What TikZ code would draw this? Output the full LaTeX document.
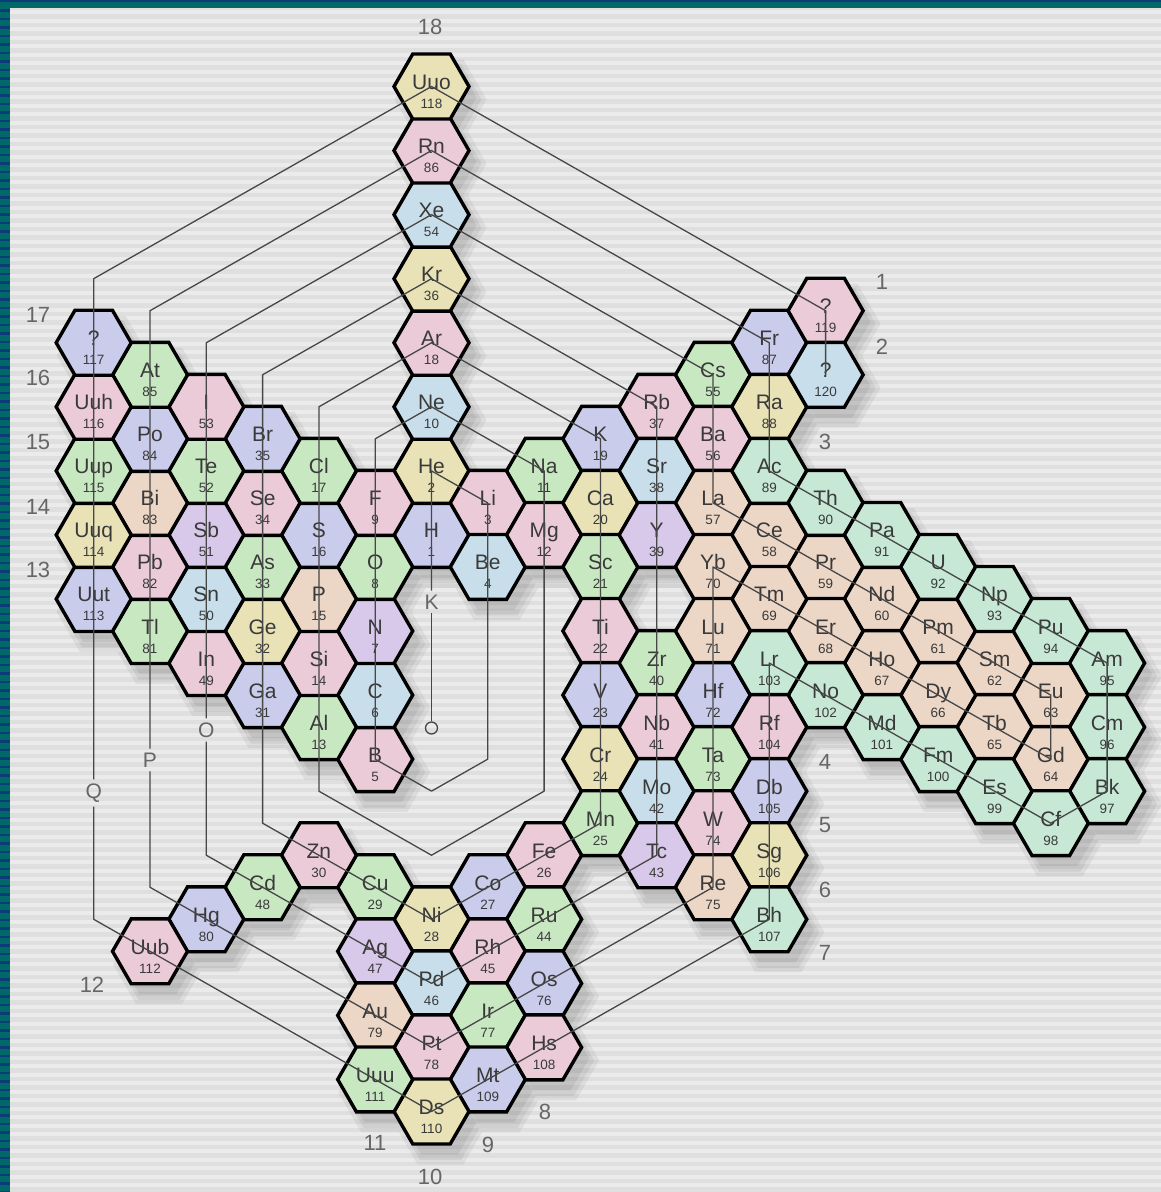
\documentclass[tikz,border=0pt]{standalone}
\usepackage{fontspec}
\setmainfont{Liberation Sans}
\usetikzlibrary{shapes.geometric}
\definecolor{cpink}{HTML}{EBCBD8}
\definecolor{cyel}{HTML}{E8E2B6}
\definecolor{cblue}{HTML}{C8DEEA}
\definecolor{clav}{HTML}{CACCEC}
\definecolor{cpurp}{HTML}{D8C8EA}
\definecolor{cgreen}{HTML}{C8E8C2}
\definecolor{cmint}{HTML}{C6E8D4}
\definecolor{cpeach}{HTML}{ECD6C6}
\definecolor{bgc}{HTML}{DFDFDF}
\definecolor{stripec}{HTML}{EBEBEB}
\definecolor{framec}{HTML}{006868}
\definecolor{navyc}{HTML}{0B3C78}
\definecolor{linec}{HTML}{474747}
\definecolor{txtc}{HTML}{3A3A3A}
\definecolor{lblc}{HTML}{666666}
\pgfdeclarelayer{bglayer}
\pgfdeclarelayer{shadowlayer}
\pgfsetlayers{bglayer,shadowlayer,main}
\tikzset{
  hexcell/.style={regular polygon, regular polygon sides=6, minimum size=75pt,
    inner sep=0pt, outer sep=0pt, draw=black, line width=3.4pt},
  symtxt/.style={font=\fontsize{21}{21}\selectfont, text=txtc, inner sep=0pt, anchor=base},
  numtxt/.style={font=\fontsize{13.5}{13.5}\selectfont, text=txtc, inner sep=0pt, anchor=base},
  grouplbl/.style={font=\fontsize{22}{22}\selectfont, text=lblc, inner sep=0pt},
  shelllbl/.style={font=\fontsize{21}{21}\selectfont, text=lblc, inner sep=4pt},
  conn/.style={draw=linec, line width=1.3pt, line join=round},
  origin/.style={circle, draw=linec, line width=1.3pt, minimum size=12pt, inner sep=0pt},
}
\def\elist{}
\newcommand\el[6]{%
  \node[hexcell, fill=#6] (#1) at (#2,#3) {};
  \node[symtxt] (#1-s) at ([yshift=-3pt]#1.center) {#4};
  \node[numtxt] (#1-n) at ([yshift=-22pt]#1.center) {#5};
  \ifx\elist\empty\xdef\elist{#1}\else\xdef\elist{\elist,#1}\fi
}
\newcommand\hexpath[1]{(0:#1) -- (60:#1) -- (120:#1) -- (180:#1) -- (240:#1) -- (300:#1) -- cycle}
\begin{document}
\begin{tikzpicture}[x=1pt,y=-1pt]
\useasboundingbox (0,0) rectangle (1161,1192);
\begin{pgfonlayer}{bglayer}
  \fill[bgc] (0,0) rectangle (1161,1192);
  \foreach \i in {0,...,139} \fill[stripec] (10,{10+8.5*\i}) rectangle (1161,{14+8.5*\i});
  \fill[framec] (0,0) rectangle (10,1192);
  \fill[framec] (0,0) rectangle (1161,8);
  \fill[navyc] (0,0) rectangle (1161,1.5);
  \foreach \i in {0,...,140} \fill[navyc] (0,{9+8.5*\i}) rectangle (10,{11.5+8.5*\i});
\end{pgfonlayer}

\begin{scope}[shift={(431.5,86.5)}, x=56.3pt, y=-64.06pt]
\el{H}{0}{7}{H}{1}{clav}
\el{He}{0}{6}{He}{2}{cyel}
\el{Li}{1}{6.5}{Li}{3}{cpink}
\el{Be}{1}{7.5}{Be}{4}{cblue}
\el{B}{-1}{10.5}{B}{5}{cpink}
\el{C}{-1}{9.5}{C}{6}{cblue}
\el{N}{-1}{8.5}{N}{7}{cpurp}
\el{O}{-1}{7.5}{O}{8}{cgreen}
\el{F}{-1}{6.5}{F}{9}{cpink}
\el{Ne}{0}{5}{Ne}{10}{cblue}
\el{Na}{2}{6}{Na}{11}{cgreen}
\el{Mg}{2}{7}{Mg}{12}{cpink}
\el{Al}{-2}{10}{Al}{13}{cgreen}
\el{Si}{-2}{9}{Si}{14}{cpink}
\el{P}{-2}{8}{P}{15}{cpeach}
\el{S}{-2}{7}{S}{16}{clav}
\el{Cl}{-2}{6}{Cl}{17}{cgreen}
\el{Ar}{0}{4}{Ar}{18}{cpink}
\el{K}{3}{5.5}{K}{19}{clav}
\el{Ca}{3}{6.5}{Ca}{20}{cyel}
\el{Sc}{3}{7.5}{Sc}{21}{cgreen}
\el{Ti}{3}{8.5}{Ti}{22}{cpink}
\el{V}{3}{9.5}{V}{23}{clav}
\el{Cr}{3}{10.5}{Cr}{24}{cyel}
\el{Mn}{3}{11.5}{Mn}{25}{cgreen}
\el{Fe}{2}{12}{Fe}{26}{cpink}
\el{Co}{1}{12.5}{Co}{27}{clav}
\el{Ni}{0}{13}{Ni}{28}{cyel}
\el{Cu}{-1}{12.5}{Cu}{29}{cgreen}
\el{Zn}{-2}{12}{Zn}{30}{cpink}
\el{Ga}{-3}{9.5}{Ga}{31}{clav}
\el{Ge}{-3}{8.5}{Ge}{32}{cyel}
\el{As}{-3}{7.5}{As}{33}{cgreen}
\el{Se}{-3}{6.5}{Se}{34}{cpink}
\el{Br}{-3}{5.5}{Br}{35}{clav}
\el{Kr}{0}{3}{Kr}{36}{cyel}
\el{Rb}{4}{5}{Rb}{37}{cpink}
\el{Sr}{4}{6}{Sr}{38}{cblue}
\el{Y}{4}{7}{Y}{39}{cpurp}
\el{Zr}{4}{9}{Zr}{40}{cgreen}
\el{Nb}{4}{10}{Nb}{41}{cpink}
\el{Mo}{4}{11}{Mo}{42}{cblue}
\el{Tc}{4}{12}{Tc}{43}{cpurp}
\el{Ru}{2}{13}{Ru}{44}{cgreen}
\el{Rh}{1}{13.5}{Rh}{45}{cpink}
\el{Pd}{0}{14}{Pd}{46}{cblue}
\el{Ag}{-1}{13.5}{Ag}{47}{cpurp}
\el{Cd}{-3}{12.5}{Cd}{48}{cgreen}
\el{In}{-4}{9}{In}{49}{cpink}
\el{Sn}{-4}{8}{Sn}{50}{cblue}
\el{Sb}{-4}{7}{Sb}{51}{cpurp}
\el{Te}{-4}{6}{Te}{52}{cgreen}
\el{I}{-4}{5}{I}{53}{cpink}
\el{Xe}{0}{2}{Xe}{54}{cblue}
\el{Cs}{5}{4.5}{Cs}{55}{cgreen}
\el{Ba}{5}{5.5}{Ba}{56}{cpink}
\el{La}{5}{6.5}{La}{57}{cpeach}
\el{Ce}{6}{7}{Ce}{58}{cpeach}
\el{Pr}{7}{7.5}{Pr}{59}{cpeach}
\el{Nd}{8}{8}{Nd}{60}{cpeach}
\el{Pm}{9}{8.5}{Pm}{61}{cpeach}
\el{Sm}{10}{9}{Sm}{62}{cpeach}
\el{Eu}{11}{9.5}{Eu}{63}{cpeach}
\el{Gd}{11}{10.5}{Gd}{64}{cpeach}
\el{Tb}{10}{10}{Tb}{65}{cpeach}
\el{Dy}{9}{9.5}{Dy}{66}{cpeach}
\el{Ho}{8}{9}{Ho}{67}{cpeach}
\el{Er}{7}{8.5}{Er}{68}{cpeach}
\el{Tm}{6}{8}{Tm}{69}{cpeach}
\el{Yb}{5}{7.5}{Yb}{70}{cpeach}
\el{Lu}{5}{8.5}{Lu}{71}{cpeach}
\el{Hf}{5}{9.5}{Hf}{72}{clav}
\el{Ta}{5}{10.5}{Ta}{73}{cgreen}
\el{W}{5}{11.5}{W}{74}{cpink}
\el{Re}{5}{12.5}{Re}{75}{cpeach}
\el{Os}{2}{14}{Os}{76}{clav}
\el{Ir}{1}{14.5}{Ir}{77}{cgreen}
\el{Pt}{0}{15}{Pt}{78}{cpink}
\el{Au}{-1}{14.5}{Au}{79}{cpeach}
\el{Hg}{-4}{13}{Hg}{80}{clav}
\el{Tl}{-5}{8.5}{Tl}{81}{cgreen}
\el{Pb}{-5}{7.5}{Pb}{82}{cpink}
\el{Bi}{-5}{6.5}{Bi}{83}{cpeach}
\el{Po}{-5}{5.5}{Po}{84}{clav}
\el{At}{-5}{4.5}{At}{85}{cgreen}
\el{Rn}{0}{1}{Rn}{86}{cpink}
\el{Fr}{6}{4}{Fr}{87}{clav}
\el{Ra}{6}{5}{Ra}{88}{cyel}
\el{Ac}{6}{6}{Ac}{89}{cmint}
\el{Th}{7}{6.5}{Th}{90}{cmint}
\el{Pa}{8}{7}{Pa}{91}{cmint}
\el{U}{9}{7.5}{U}{92}{cmint}
\el{Np}{10}{8}{Np}{93}{cmint}
\el{Pu}{11}{8.5}{Pu}{94}{cmint}
\el{Am}{12}{9}{Am}{95}{cmint}
\el{Cm}{12}{10}{Cm}{96}{cmint}
\el{Bk}{12}{11}{Bk}{97}{cmint}
\el{Cf}{11}{11.5}{Cf}{98}{cmint}
\el{Es}{10}{11}{Es}{99}{cmint}
\el{Fm}{9}{10.5}{Fm}{100}{cmint}
\el{Md}{8}{10}{Md}{101}{cmint}
\el{No}{7}{9.5}{No}{102}{cmint}
\el{Lr}{6}{9}{Lr}{103}{cmint}
\el{Rf}{6}{10}{Rf}{104}{cpink}
\el{Db}{6}{11}{Db}{105}{clav}
\el{Sg}{6}{12}{Sg}{106}{cyel}
\el{Bh}{6}{13}{Bh}{107}{cmint}
\el{Hs}{2}{15}{Hs}{108}{cpink}
\el{Mt}{1}{15.5}{Mt}{109}{clav}
\el{Ds}{0}{16}{Ds}{110}{cyel}
\el{Uuu}{-1}{15.5}{Uuu}{111}{cgreen}
\el{Uub}{-5}{13.5}{Uub}{112}{cpink}
\el{Uut}{-6}{8}{Uut}{113}{clav}
\el{Uuq}{-6}{7}{Uuq}{114}{cyel}
\el{Uup}{-6}{6}{Uup}{115}{cgreen}
\el{Uuh}{-6}{5}{Uuh}{116}{cpink}
\el{e117}{-6}{4}{?}{117}{clav}
\el{Uuo}{0}{0}{Uuo}{118}{cyel}
\el{e119}{7}{3.5}{?}{119}{cpink}
\el{e120}{7}{4.5}{?}{120}{cblue}
% bends of the connectors
\coordinate (g1) at (1,10.5);
\coordinate (g2) at (0,11);
\coordinate (g3) at (-1,5.5);
\coordinate (g4) at (2,11);
\coordinate (g5) at (0,12);
\coordinate (g6) at (-2,11);
\coordinate (g7) at (-2,5);
\coordinate (g8) at (-3,11.5);
\coordinate (g9) at (-3,4.5);
\coordinate (g10) at (-4,12);
\coordinate (g11) at (-4,4);
\coordinate (g12) at (-5,12.5);
\coordinate (g13) at (-5,3.5);
\coordinate (g14) at (-6,13);
\coordinate (g15) at (-6,3);
\end{scope}

% shadows
\begin{pgfonlayer}{shadowlayer}
\begin{scope}[transparency group, opacity=0.17]
  \foreach \n in \elist {\fill[black!40, shift={(\n.center)}, xshift=9pt, yshift=-13pt] \hexpath{46pt};}
  \foreach \n in \elist {\fill[black!70, shift={(\n.center)}, xshift=9pt, yshift=-13pt] \hexpath{41pt};}
  \foreach \n in \elist {\fill[black, shift={(\n.center)}, xshift=8pt, yshift=-11pt] \hexpath{37pt};}
\end{scope}
\end{pgfonlayer}

% shell letters and origin
\node[origin] (orig) at (431.5,728) {};
\node[shelllbl] (Kl) at (431.5,602) {K};
\node[shelllbl] (Ol) at (206.3,730) {O};
\node[shelllbl] (Pl) at (150,760) {P};
\node[shelllbl] (Ql) at (93.7,793) {Q};

% group numbers
\node[grouplbl] (grp18) at (430,27) {18};
\node[grouplbl] (grp17) at (38,315) {17};
\node[grouplbl] (grp16) at (38,378) {16};
\node[grouplbl] (grp15) at (38,442) {15};
\node[grouplbl] (grp14) at (38,507) {14};
\node[grouplbl] (grp13) at (38,570) {13};
\node[grouplbl] (grp12) at (92,985) {12};
\node[grouplbl] (grp11) at (375,1143) {11};
\node[grouplbl] (grp10) at (430,1177) {10};
\node[grouplbl] (grp9) at (488,1145) {9};
\node[grouplbl] (grp8) at (545,1112) {8};
\node[grouplbl] (grp7) at (825,953) {7};
\node[grouplbl] (grp6) at (825,890) {6};
\node[grouplbl] (grp5) at (825,825) {5};
\node[grouplbl] (grp4) at (825,762) {4};
\node[grouplbl] (grp3) at (825,442) {3};
\node[grouplbl] (grp2) at (882,347) {2};
\node[grouplbl] (grp1) at (882,282) {1};

% connectors: the spiral through the elements in order
\draw[conn] (orig) -- (Kl);
\draw[conn] (Kl) -- (H.center) -- (He.center) -- (Li.center) -- (Be.center) -- (g1) -- (g2)
  -- (B.center) -- (C.center) -- (N.center) -- (O.center) -- (F.center) -- (g3) -- (Ne.center)
  -- (Na.center) -- (Mg.center) -- (g4) -- (g5) -- (g6) -- (Al.center) -- (Si.center) -- (P.center)
  -- (S.center) -- (Cl.center) -- (g7) -- (Ar.center) -- (K.center) -- (Ca.center) -- (Sc.center)
  -- (Ti.center) -- (V.center) -- (Cr.center) -- (Mn.center) -- (Fe.center) -- (Co.center)
  -- (Ni.center) -- (Cu.center) -- (Zn.center) -- (g8) -- (Ga.center) -- (Ge.center) -- (As.center)
  -- (Se.center) -- (Br.center) -- (g9) -- (Kr.center) -- (Rb.center) -- (Sr.center) -- (Y.center)
  -- (Zr.center) -- (Nb.center) -- (Mo.center) -- (Tc.center) -- (Ru.center) -- (Rh.center)
  -- (Pd.center) -- (Ag.center) -- (Cd.center) -- (g10) -- (Ol);
\draw[conn] (Ol) -- (In.center) -- (Sn.center) -- (Sb.center) -- (Te.center) -- (I.center) -- (g11)
  -- (Xe.center) -- (Cs.center) -- (Ba.center) -- (La.center) -- (Ce.center) -- (Pr.center)
  -- (Nd.center) -- (Pm.center) -- (Sm.center) -- (Eu.center) -- (Gd.center) -- (Tb.center)
  -- (Dy.center) -- (Ho.center) -- (Er.center) -- (Tm.center) -- (Yb.center) -- (Lu.center)
  -- (Hf.center) -- (Ta.center) -- (W.center) -- (Re.center) -- (Os.center) -- (Ir.center)
  -- (Pt.center) -- (Au.center) -- (Hg.center) -- (g12) -- (Pl);
\draw[conn] (Pl) -- (Tl.center) -- (Pb.center) -- (Bi.center) -- (Po.center) -- (At.center) -- (g13)
  -- (Rn.center) -- (Fr.center) -- (Ra.center) -- (Ac.center) -- (Th.center) -- (Pa.center)
  -- (U.center) -- (Np.center) -- (Pu.center) -- (Am.center) -- (Cm.center) -- (Bk.center)
  -- (Cf.center) -- (Es.center) -- (Fm.center) -- (Md.center) -- (No.center) -- (Lr.center)
  -- (Rf.center) -- (Db.center) -- (Sg.center) -- (Bh.center) -- (Hs.center) -- (Mt.center)
  -- (Ds.center) -- (Uuu.center) -- (Uub.center) -- (g14) -- (Ql);
\draw[conn] (Ql) -- (Uut.center) -- (Uuq.center) -- (Uup.center) -- (Uuh.center) -- (e117.center)
  -- (g15) -- (Uuo.center) -- (e119.center) -- (e120.center);
\end{tikzpicture}
\end{document}
